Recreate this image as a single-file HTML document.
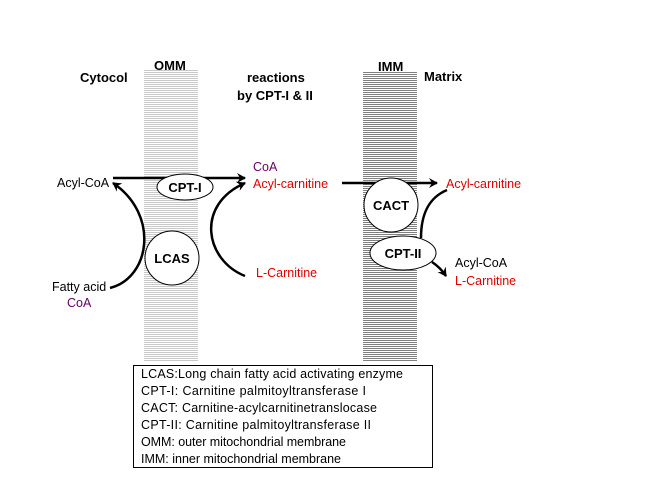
<!DOCTYPE html>
<html><head><style>
body{margin:0;background:#fff;}
svg{display:block;font-family:"Liberation Sans",sans-serif;}
</style></head><body>
<svg width="672" height="504" viewBox="0 0 672 504" xmlns="http://www.w3.org/2000/svg">
<defs>
<pattern id="lt" width="4" height="2" patternUnits="userSpaceOnUse"><rect width="4" height="1" fill="#c8c8c8"/></pattern>
<pattern id="dk" width="4" height="2" patternUnits="userSpaceOnUse"><rect width="4" height="1" fill="#808080"/></pattern>
<marker id="ah" markerWidth="10" markerHeight="10" refX="8" refY="5" orient="auto" markerUnits="userSpaceOnUse"><path d="M0,0 L9,5 L0,10 L3,5 Z" fill="#000"/></marker>
</defs>
<rect x="144" y="70" width="54" height="292" fill="url(#lt)"/>
<rect x="363" y="72" width="54" height="290" fill="url(#dk)"/>
<g font-weight="bold" font-size="13" fill="#000">
<text x="80" y="82">Cytocol</text>
<text x="154" y="70">OMM</text>
<text x="247" y="82">reactions</text>
<text x="237" y="100">by CPT-I &amp; II</text>
<text x="378" y="71">IMM</text>
<text x="424" y="81">Matrix</text>
</g>
<g font-size="12.5">
<text x="57" y="187" fill="#000">Acyl-CoA</text>
<text x="253" y="171" fill="#660066">CoA</text>
<text x="253" y="188" fill="#e00000">Acyl-carnitine</text>
<text x="52" y="291" fill="#000">Fatty acid</text>
<text x="67" y="307" fill="#660066">CoA</text>
<text x="256" y="277" fill="#e00000">L-Carnitine</text>
<text x="446" y="188" fill="#e00000">Acyl-carnitine</text>
<text x="455" y="267" fill="#000">Acyl-CoA</text>
<text x="455" y="285" fill="#e00000">L-Carnitine</text>
</g>
<g stroke="#000" stroke-width="2.5" fill="none">
<line x1="113" y1="178" x2="245" y2="178" marker-end="url(#ah)"/>
<path d="M110,288 C150,278 160,215 113,183" marker-end="url(#ah)"/>
<path d="M245,276 C205,260 195,205 245,183" marker-end="url(#ah)"/>
<line x1="342" y1="183" x2="437" y2="183" marker-end="url(#ah)"/>
<path d="M447,190 C428,198 421,215 421,238"/>
<path d="M432,262 C438,266 442,270 446,276" marker-end="url(#ah)"/>
</g>
<g stroke="#000" stroke-width="1" fill="#fff">
<ellipse cx="185" cy="187" rx="28" ry="13"/>
<circle cx="172" cy="258" r="27"/>
<circle cx="391" cy="205" r="27"/>
<ellipse cx="403" cy="253" rx="33" ry="17"/>
</g>
<g font-weight="bold" font-size="13" text-anchor="middle">
<text x="185" y="192">CPT-I</text>
<text x="172" y="263">LCAS</text>
<text x="391" y="210">CACT</text>
<text x="403" y="258">CPT-II</text>
</g>
<rect x="133.5" y="365.5" width="299" height="102" fill="#fff" stroke="#000"/>
<g font-size="12.5" fill="#000">
<text x="141" y="378" textLength="262">LCAS:Long chain fatty acid activating enzyme</text>
<text x="141" y="395" textLength="225">CPT-I: Carnitine palmitoyltransferase I</text>
<text x="141" y="412" textLength="236">CACT: Carnitine-acylcarnitinetranslocase</text>
<text x="141" y="429" textLength="230">CPT-II: Carnitine palmitoyltransferase II</text>
<text x="141" y="446" textLength="205">OMM: outer mitochondrial membrane</text>
<text x="141" y="463" textLength="200">IMM: inner mitochondrial membrane</text>
</g>
</svg>
</body></html>
